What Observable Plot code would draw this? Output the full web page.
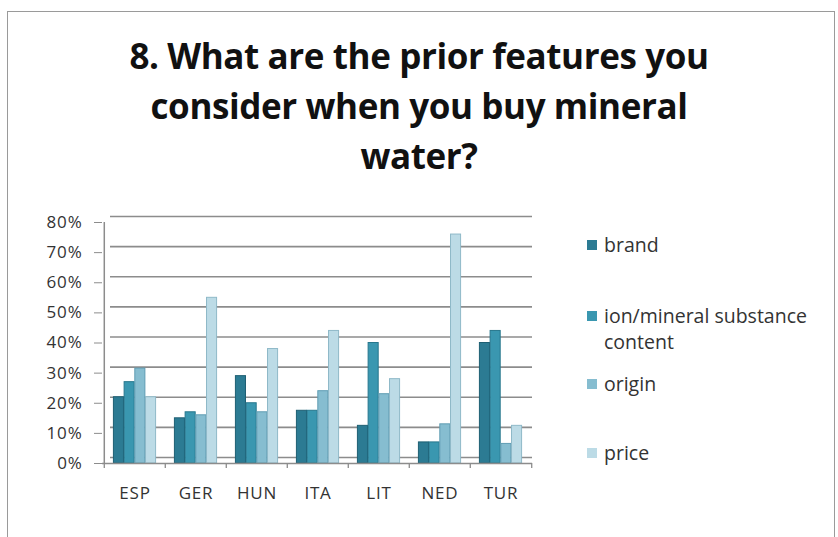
<!DOCTYPE html>
<html>
<head>
<meta charset="utf-8">
<script src="https://cdn.jsdelivr.net/npm/d3@7"></script>
<script src="https://cdn.jsdelivr.net/npm/@observablehq/plot@0.6"></script>
<style>
  html, body { margin: 0; padding: 0; background: #fff; }
  #wrap { position: relative; width: 838px; height: 537px; overflow: hidden; font-family: "Open Sans", sans-serif; }
  #border { position: absolute; left: 7px; top: 11px; width: 828px; height: 540px; border: 1px solid #9a9a9a; box-sizing: border-box; }
  #title { position: absolute; left: 0; width: 838px; top: 31px; text-align: center; font-family: "Open Sans", sans-serif; font-weight: bold; font-size: 35px; line-height: 50px; color: #111; letter-spacing: -0.4px; }
  #legend { position: absolute; left: 587px; top: 0; font-family: "Open Sans", sans-serif; font-size: 19.5px; color: #333; }
  .li { position: absolute; left: 0; white-space: nowrap; line-height: 26px; }
  .sw { display: inline-block; width: 10px; height: 10px; margin-right: 7px; vertical-align: 2px; }
  #chart { position: absolute; left: 0; top: 0; }
  #chart svg text { letter-spacing: 0.8px; }
</style>
</head>
<body>
<div id="wrap">
  <div id="border"></div>
  <div id="chart"></div>
  <div id="title">8. What are the prior features you<br>consider when you buy mineral<br>water?</div>
  <div id="legend"></div>
</div>
<script>
const countries = ["ESP", "GER", "HUN", "ITA", "LIT", "NED", "TUR"];
const seriesNames = ["brand", "ion/mineral substance content", "origin", "price"];
const brand  = [0.22, 0.15, 0.29, 0.175, 0.125, 0.07, 0.40];
const ion    = [0.27, 0.17, 0.20, 0.175, 0.40, 0.07, 0.44];
const origin = [0.315, 0.16, 0.17, 0.24, 0.23, 0.13, 0.065];
const price  = [0.22, 0.55, 0.38, 0.44, 0.28, 0.76, 0.125];
const yTicks = [0, 0.1, 0.2, 0.3, 0.4, 0.5, 0.6, 0.7, 0.8];
const colors = ["#2c7b93", "#3a97b0", "#86bdd0", "#bcdbe6"];
const strokes = ["#1e5f73", "#27778d", "#5f9db3", "#8fb9c8"];

const allSeries = [brand, ion, origin, price];
const rows = [];
allSeries.forEach((vals, s) => countries.forEach((c, i) => rows.push({country: c, series: s, value: vals[i]})));

const W = 838, H = 537;
const mL = 102, mR = 306, mT = 222, mB = 74;
const bw = (W - mL - mR) / countries.length;
const barW = 10.5;
const step = 10.7;
const inset = (bw - barW) / 2;
const axisColor = "#8c8c8c";

const marks = [
  Plot.ruleY(yTicks, {stroke: axisColor, strokeWidth: 1.6, dy: -6, insetLeft: 8})
];
for (let s = 0; s < 4; s++) {
  marks.push(Plot.barY(rows.filter(r => r.series === s), {
    x: "country", y: "value", fill: colors[s], stroke: strokes[s], strokeWidth: 1,
    insetLeft: inset, insetRight: inset, dx: (s - 1.5) * step
  }));
}
marks.push(Plot.ruleY([0], {stroke: axisColor, strokeWidth: 1.5}));
marks.push(Plot.ruleX([countries[0]], {x: d => d, y1: 0, y2: 0.8, dx: -bw / 2, stroke: axisColor, strokeWidth: 1.5}));
marks.push(Plot.ruleX(countries, {x: d => d, y1: 0, y2: -0.017, dx: -bw / 2, stroke: axisColor, strokeWidth: 1.3}));
marks.push(Plot.ruleX([countries[countries.length - 1]], {x: d => d, y1: 0, y2: -0.017, dx: bw / 2, stroke: axisColor, strokeWidth: 1.3}));
marks.push(Plot.axisY({ticks: yTicks, tickFormat: d3.format(".0%"), tickSize: 8, tickPadding: 12, stroke: axisColor, label: null, fontSize: 17}));
marks.push(Plot.axisX({tickSize: 0, tickPadding: 23, label: null, fontSize: 17}));

const plot = Plot.plot({
  width: W, height: H,
  marginLeft: mL, marginRight: mR, marginTop: mT, marginBottom: mB,
  style: {background: "transparent", fontFamily: "'Open Sans', sans-serif", fontSize: "17px", color: "#333"},
  x: {domain: countries, padding: 0},
  y: {domain: [0, 0.8]},
  marks
});
document.getElementById("chart").appendChild(plot);

const legendY = [[245], [316, 342], [384], [453]];
const legendText = [["brand"], ["ion/mineral substance", "content"], ["origin"], ["price"]];
const leg = document.getElementById("legend");
legendText.forEach((lines, s) => {
  lines.forEach((t, j) => {
    const d = document.createElement("div");
    d.className = "li";
    d.style.top = (legendY[s][j] - 13) + "px";
    d.innerHTML = `<span class="sw" style="background:${j === 0 ? colors[s] : "transparent"}"></span>${t}`;
    leg.appendChild(d);
  });
});
</script>
</body>
</html>
